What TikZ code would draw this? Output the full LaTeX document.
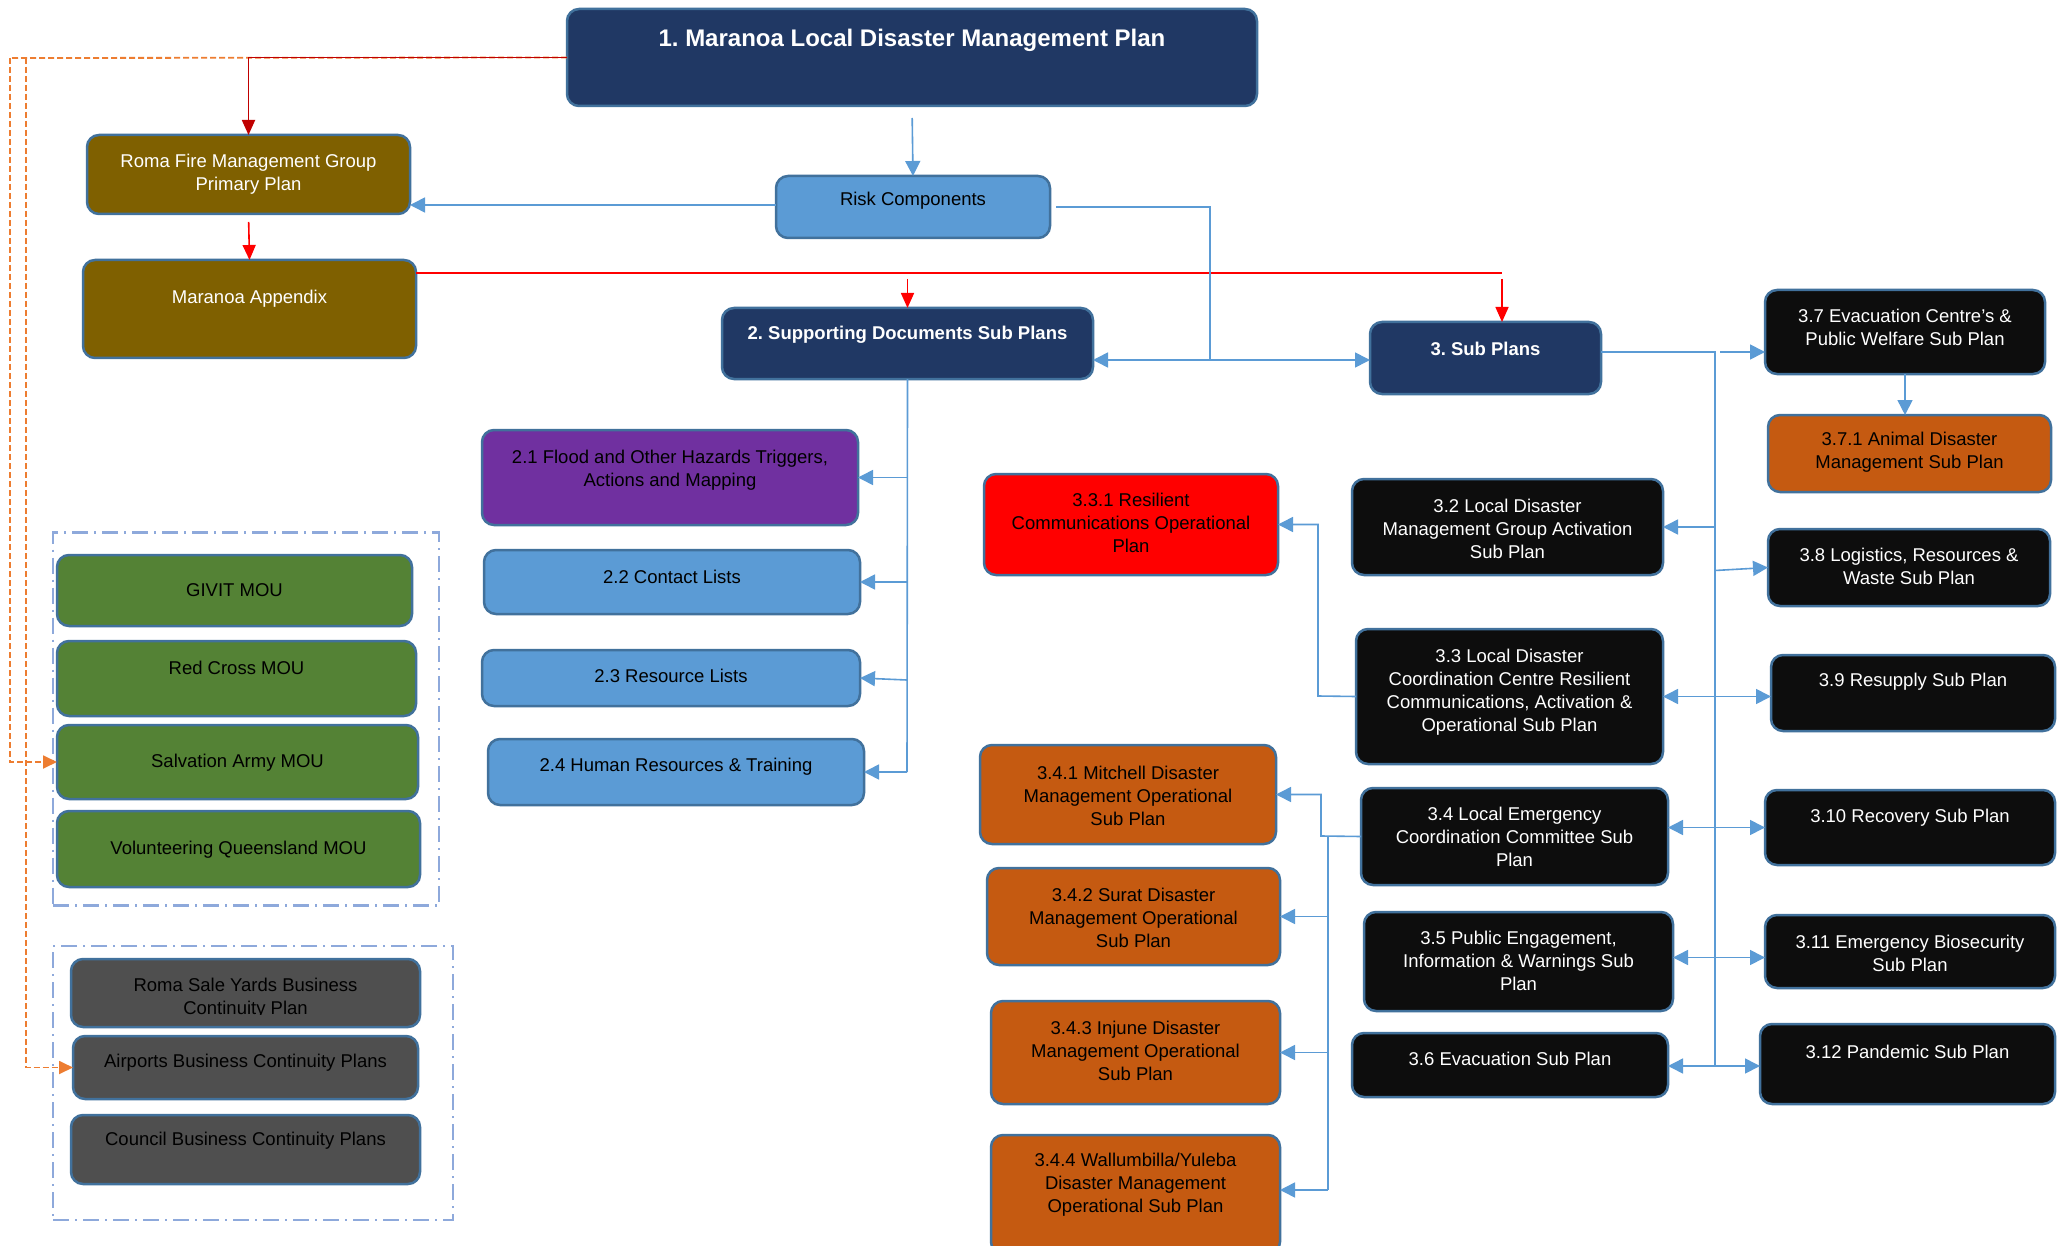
\documentclass[tikz,border=0pt]{standalone}
\usepackage{fontspec}
\setmainfont{Liberation Sans}
\usetikzlibrary{arrows.meta}
\frenchspacing
\definecolor{navy}{HTML}{203864}
\definecolor{bordblue}{HTML}{41719C}
\definecolor{olive}{HTML}{7F6000}
\definecolor{lblue}{HTML}{5B9BD5}
\definecolor{purp}{HTML}{7030A0}
\definecolor{grn}{HTML}{548235}
\definecolor{dgray}{HTML}{4F4F4F}
\definecolor{blk}{HTML}{0D0D0D}
\definecolor{orng}{HTML}{C55A11}
\definecolor{rbox}{HTML}{FF0000}
\definecolor{dred}{HTML}{C00000}
\definecolor{lred}{HTML}{FF0000}
\definecolor{odash}{HTML}{ED7D31}
\definecolor{grpcol}{HTML}{8EA9DB}
\definecolor{lineblue}{HTML}{5B9BD5}
\tikzset{
  box/.style={draw=bordblue, line width=2.5pt, rounded corners=12pt, inner sep=0pt, outer sep=0pt},
  lbl/.style={align=center, inner sep=0pt, font=\fontsize{18.5}{23}\selectfont},
  wt/.style={text=white},
  bk/.style={text=black},
  wtb/.style={text=white, font=\fontsize{18.5}{23}\selectfont\bfseries},
  ttl/.style={text=white, font=\fontsize{24}{28}\selectfont\bfseries},
  con/.style={draw=lineblue, line width=1.6pt, -{Triangle[length=15pt,width=15pt]}},
  conl/.style={draw=lineblue, line width=1.6pt},
  dcon/.style={draw=dred, line width=1.8pt, -{Triangle[length=15pt,width=13pt]}},
  rcon/.style={draw=lred, line width=1.6pt, -{Triangle[length=15pt,width=13pt]}},
  rline/.style={draw=lred, line width=1.6pt},
  ocon/.style={draw=odash, line width=1.8pt, dash pattern=on 6pt off 3pt, -{Triangle[length=14pt,width=13pt]}},
  oline/.style={draw=odash, line width=1.8pt, dash pattern=on 6pt off 3pt},
  grpbox/.style={draw=grpcol, line width=2.5pt, dash pattern=on 16pt off 6pt on 2pt off 6pt, inner sep=0pt, outer sep=0pt},
}
% name, fill, x1, y1, x2, y2, text style, text y, text
\newcommand{\bx}[9]{%
  \node[box, fill=#2, minimum width={(#5-#3)*1pt}, minimum height={(#6-#4)*1pt}] (#1) at ({(#3+#5)/2},{(#4+#6)/2}) {};
  \node[lbl, #7] (#1-t) at ({(#3+#5)/2},#8) {#9};
}
\begin{document}
\begin{tikzpicture}[x=1pt,y=-1pt]
\useasboundingbox[fill=white] (0,0) rectangle (2058,1246);

% group boxes
\node[grpbox, minimum width=386pt, minimum height=373pt] (g1) at (246,719) {};
\node[grpbox, minimum width=400pt, minimum height=274pt] (g2) at (253,1083) {};

% boxes
\bx{top}{navy}{567}{9}{1257}{106}{ttl}{40}{1. Maranoa Local Disaster Management Plan}
\bx{rfire}{olive}{87}{135}{410}{214}{wt}{174}{Roma Fire Management Group\\Primary Plan}
\bx{mapp}{olive}{83}{260}{416}{358}{wt}{299}{Maranoa Appendix}
\bx{risk}{lblue}{776}{176}{1050}{238}{bk}{201}{Risk Components}
\bx{sup2}{navy}{722}{308}{1093}{379}{wtb}{335}{2. Supporting Documents Sub Plans}
\bx{sub3}{navy}{1370}{322}{1601}{394}{wtb}{349}{3. Sub Plans}
\bx{n37}{blk}{1765}{290}{2045}{374}{wt}{327}{3.7 Evacuation Centre’s \&\\Public Welfare Sub Plan}
\bx{n371}{orng}{1768}{415}{2051}{492}{bk}{452}{3.7.1 Animal Disaster\\Management Sub Plan}

\bx{n21}{purp}{482}{430}{858}{525}{bk}{470}{2.1 Flood and Other Hazards Triggers,\\Actions and Mapping}
\bx{n22}{lblue}{484}{550}{860}{614}{bk}{577}{2.2 Contact Lists}
\bx{n23}{lblue}{482}{650}{860}{706}{bk}{676}{2.3 Resource Lists}
\bx{n24}{lblue}{488}{739}{864}{805}{bk}{767}{2.4 Human Resources \& Training}

\bx{n331}{rbox}{984}{474}{1278}{575}{bk}{523}{3.3.1 Resilient\\Communications Operational\\Plan}
\bx{n32}{blk}{1352}{479}{1663}{575}{wt}{529}{3.2 Local Disaster\\Management Group Activation\\Sub Plan}
\bx{n38}{blk}{1768}{529}{2050}{606}{wt}{566}{3.8 Logistics, Resources \&\\Waste Sub Plan}
\bx{n33}{blk}{1356}{629}{1663}{764}{wt}{692}{3.3 Local Disaster\\Coordination Centre Resilient\\Communications, Activation \&\\Operational Sub Plan}
\bx{n39}{blk}{1771}{655}{2055}{731}{wt}{682}{3.9 Resupply Sub Plan}

\bx{n341}{orng}{980}{745}{1276}{844}{bk}{796}{3.4.1 Mitchell Disaster\\Management Operational\\Sub Plan}
\bx{n34}{blk}{1361}{788}{1668}{885}{wt}{837}{3.4 Local Emergency\\Coordination Committee Sub\\Plan}
\bx{n310}{blk}{1765}{790}{2055}{865}{wt}{818}{3.10 Recovery Sub Plan}
\bx{n342}{orng}{987}{868}{1280}{965}{bk}{918}{3.4.2 Surat Disaster\\Management Operational\\Sub Plan}
\bx{n35}{blk}{1364}{912}{1673}{1011}{wt}{961}{3.5 Public Engagement,\\Information \& Warnings Sub\\Plan}
\bx{n311}{blk}{1765}{915}{2055}{988}{wt}{953}{3.11 Emergency Biosecurity\\Sub Plan}
\bx{n343}{orng}{991}{1001}{1280}{1104}{bk}{1051}{3.4.3 Injune Disaster\\Management Operational\\Sub Plan}
\bx{n36}{blk}{1352}{1033}{1668}{1097}{wt}{1059}{3.6 Evacuation Sub Plan}
\bx{n312}{blk}{1760}{1024}{2055}{1104}{wt}{1052}{3.12 Pandemic Sub Plan}
\bx{n344}{orng}{991}{1135}{1280}{1254}{bk}{1185}{3.4.4 Wallumbilla/Yuleba\\Disaster Management\\Operational Sub Plan}

\bx{givit}{grn}{57}{555}{412}{626}{bk}{590}{GIVIT MOU}
\bx{redx}{grn}{57}{641}{416}{716}{bk}{668}{Red Cross MOU}
\bx{salv}{grn}{57}{725}{418}{799}{bk}{763}{Salvation Army MOU}
\bx{volq}{grn}{57}{811}{420}{887}{bk}{850}{Volunteering Queensland MOU}

\node[box, fill=dgray, minimum width=349pt, minimum height=68pt] (rsy) at (245.5,993) {};
\begin{scope}
\clip (75,962) rectangle (416,1014);
\node[lbl, bk] (rsy-t) at (245.5,998) {Roma Sale Yards Business\\Continuity Plan};
\end{scope}
\bx{airp}{dgray}{73}{1036}{418}{1099}{bk}{1063}{Airports Business Continuity Plans}
\bx{coun}{dgray}{71}{1115}{420}{1184}{bk}{1141}{Council Business Continuity Plans}

% coordinates
\coordinate (o1) at (10,58);
\coordinate (o2) at (26,58);
\coordinate (j1) at (1210,360);
\coordinate (r1) at (1502,273);
\coordinate (s2b) at (907,772);
\coordinate (sp3t) at (1715,352);
\coordinate (sp3b) at (1715,1066);
\coordinate (k33) at (1318,696);
\coordinate (k34) at (1321,836);
\coordinate (k34b) at (1328,836);
\coordinate (k34e) at (1328,1190);

% orange dashed
\draw[oline] (top.west) -- (o1);
\draw[ocon] (o1) |- (salv.west);
\draw[ocon] (o2) |- (airp.west);

% red
\draw[dcon] (top.west) -| (rfire.north);
\draw[rcon, shorten <=8pt] (rfire.south) -- (mapp.north);
\draw[rline] ([yshift=36pt]mapp.east) -- (r1);
\draw[rcon, shorten <=6pt] (r1 -| sup2.north) -- (sup2.north);
\draw[rcon, shorten <=6pt] (r1) -- (r1 |- sub3.north);

% blue: top level
\draw[con, shorten <=12pt] (top.south) -- (risk.north);
\draw[con] ([yshift=2pt]risk.west) -- ([yshift=2pt]risk.west -| rfire.east);
\draw[conl, shorten <=6pt] (risk.east) -| (j1);
\draw[con] (j1) -- (j1 -| sup2.east);
\draw[con] (j1) -- (j1 -| sub3.west);

% supporting documents
\draw[conl] (sup2.south) -- (s2b);
\draw[con] (s2b |- n21.east) -- (n21.east);
\draw[con] (s2b |- n22.east) -- (n22.east);
\draw[con] ([yshift=-2pt]s2b |- n23.east) -- (n23.east);
\draw[con] (s2b) -- (n24.east);

% sub plans spine
\draw[conl] ([yshift=6pt]sub3.east) -- (sp3t) -- (sp3b);
\draw[con, shorten <=5pt] (sp3t) -- (sp3t -| n37.west);
\draw[con] (n37.south) -- (n37.south |- n371.north);
\draw[con] (sp3t |- n32.east) -- (n32.east);
\draw[con] ([yshift=-3pt]sp3t |- n38.west) -- (n38.west);
\draw[con] (sp3t |- n33.east) -- (n33.east);
\draw[con] (sp3t |- n33.east) -- (n33.east -| n39.west);
\draw[con] (sp3t |- n310.west) -- (n310.west -| n34.east);
\draw[con] (sp3t |- n310.west) -- (n310.west);
\draw[con] ([yshift=4pt]sp3t |- n35.east) -- ([yshift=4pt]n35.east);
\draw[con] ([yshift=4pt]sp3t |- n35.east) -- ([yshift=4pt]n35.east -| n311.west);
\draw[con] (sp3b) -- (sp3b -| n36.east);
\draw[con] (sp3b) -- (sp3b -| n312.west);

% 3.3 -> 3.3.1
\draw[con] (n33.west) -- (k33) |- (n331.east);
% 3.4 -> 3.4.x
\draw[con] (n34.west) -- (k34) |- (n341.east);
\draw[conl] (k34b) -- (k34e);
\draw[con] (k34b |- n342.east) -- (n342.east);
\draw[con] (k34b |- n343.east) -- (n343.east);
\draw[con] (k34e) -- (k34e -| n344.east);
\end{tikzpicture}
\end{document}
